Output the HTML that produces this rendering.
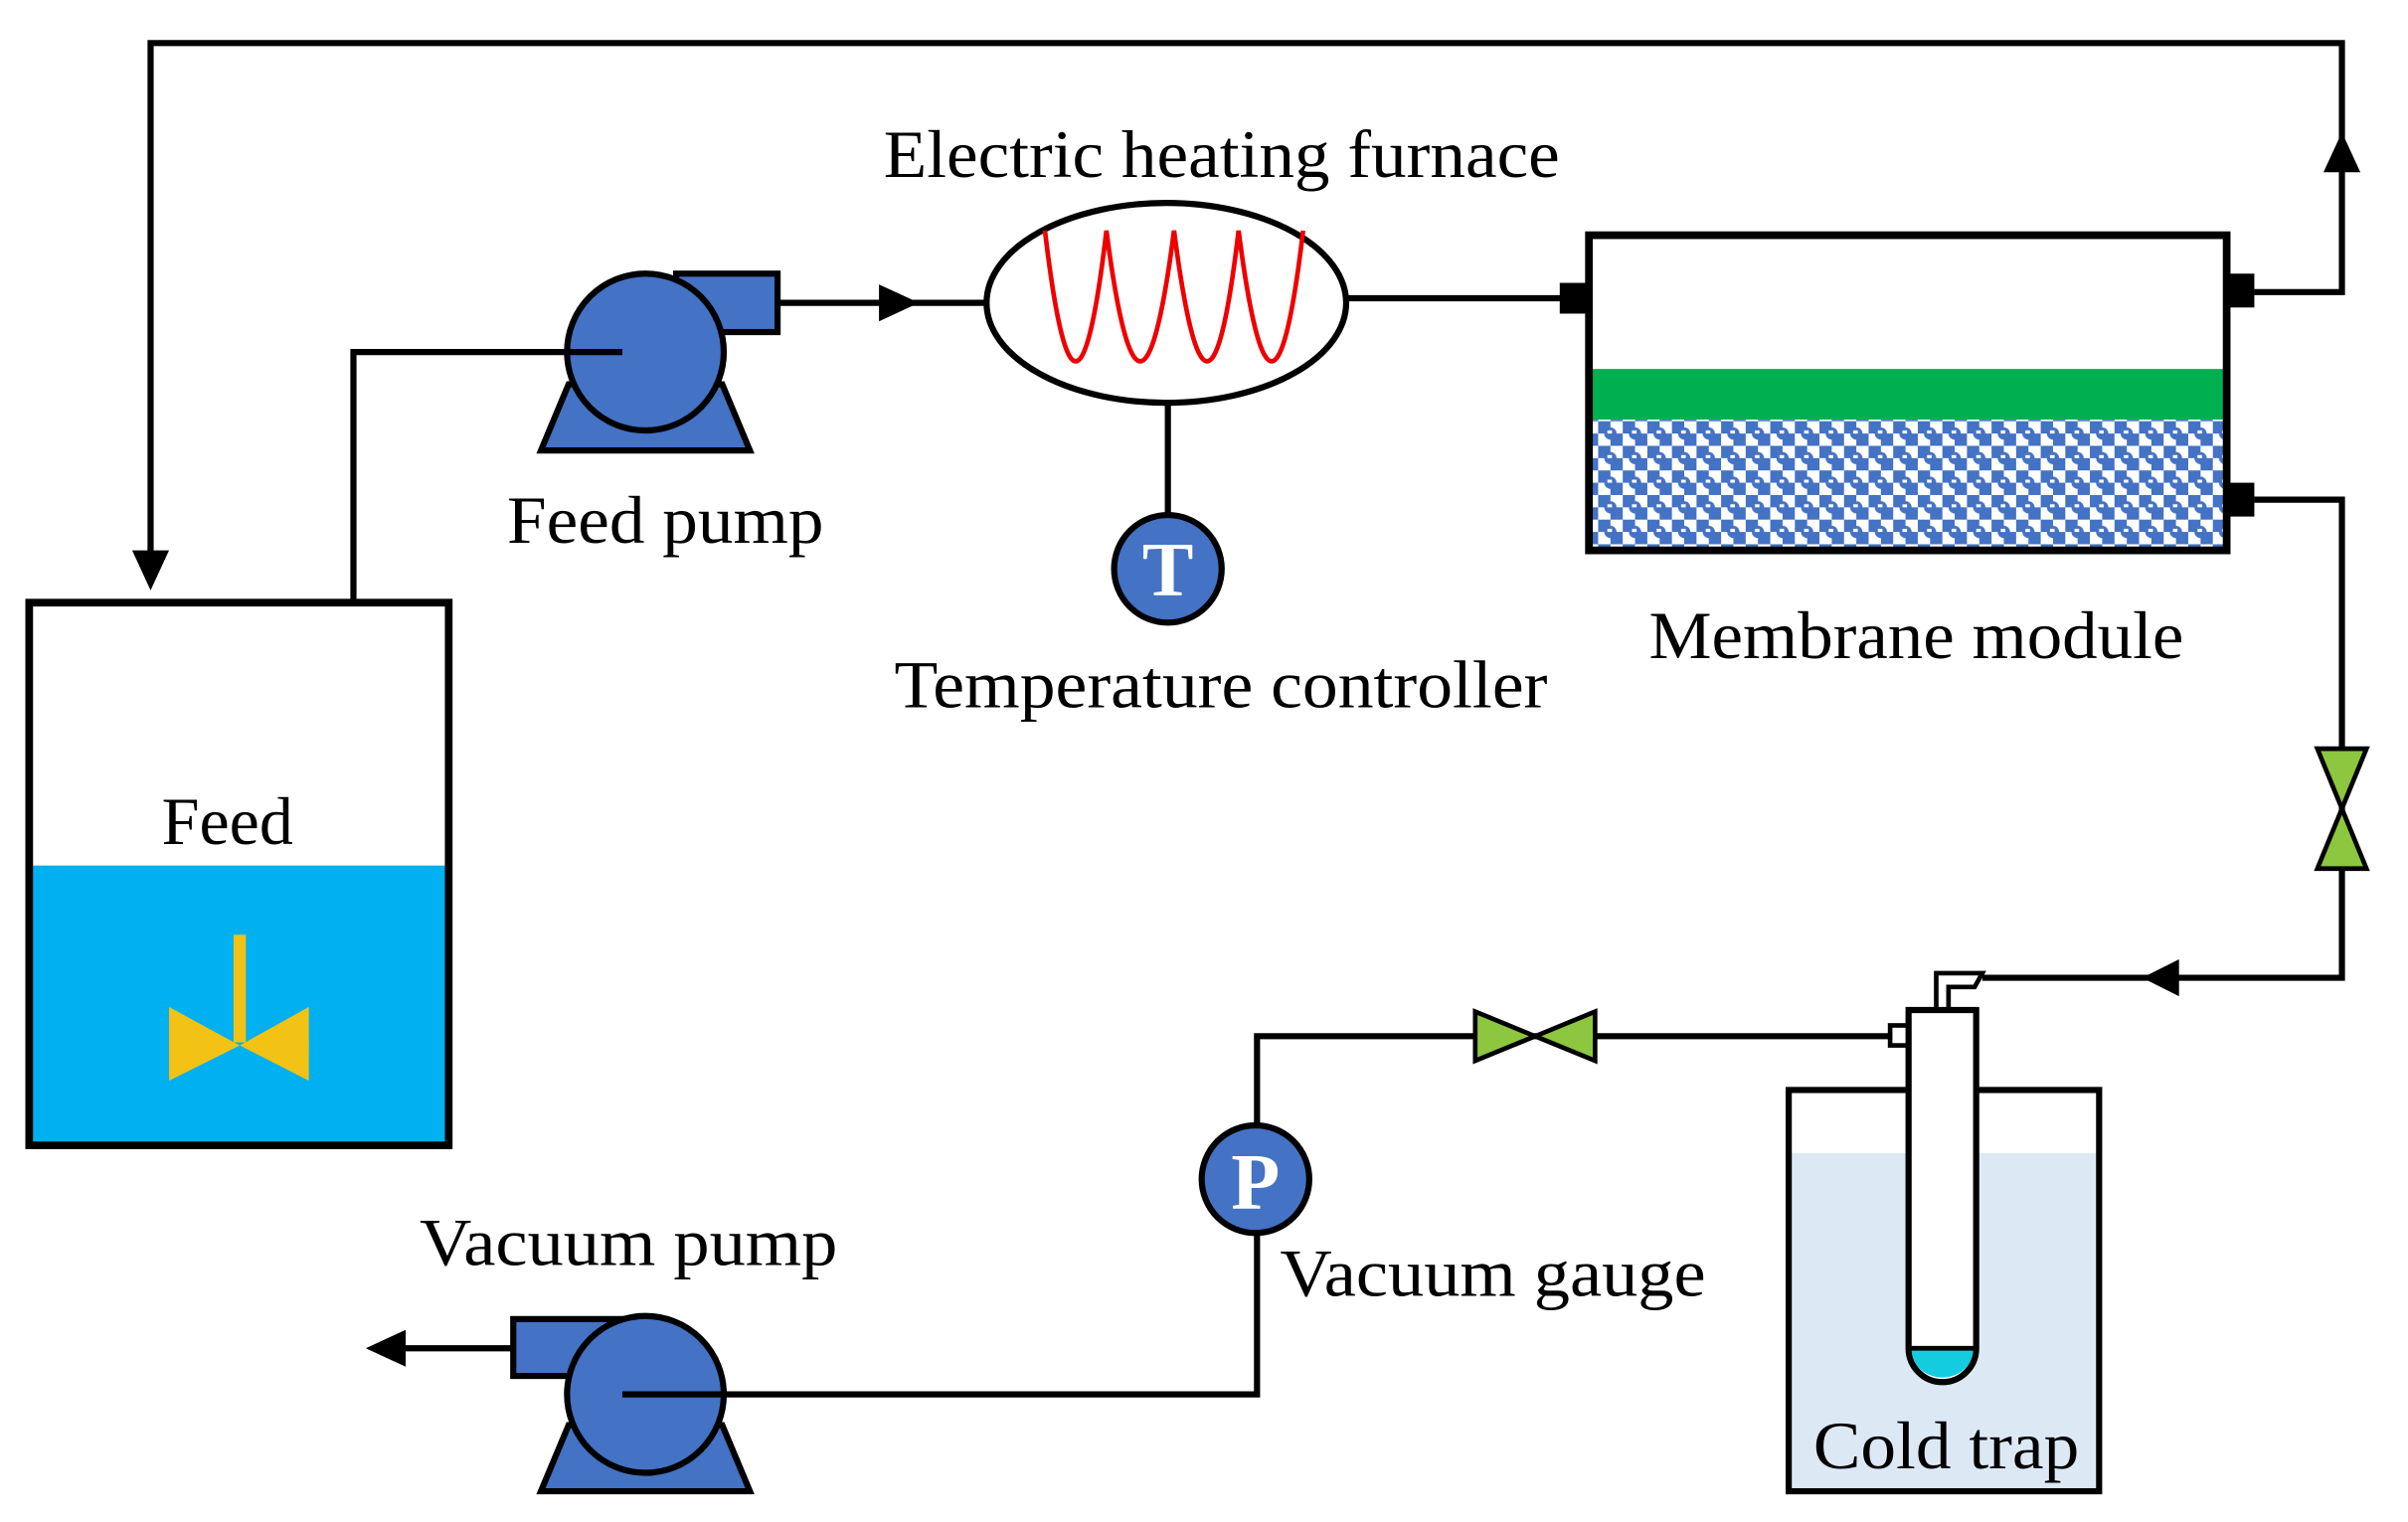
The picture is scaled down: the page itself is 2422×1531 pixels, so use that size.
<!DOCTYPE html>
<html><head><meta charset="utf-8"><style>
html,body{margin:0;padding:0;background:#fff;}
svg{display:block;}
text{font-family:"Liberation Serif",serif;fill:#000;}
</style></head><body>
<svg width="2422" height="1531" viewBox="0 0 1567 990" preserveAspectRatio="none" xmlns="http://www.w3.org/2000/svg">
<defs>
<pattern id="mp" x="1040" y="274" width="16" height="16" patternUnits="userSpaceOnUse">
<rect width="16" height="16" fill="#fff"/>
<rect x="0" y="0" width="8" height="8" fill="#4472c4"/>
<rect x="8" y="8" width="8" height="8" fill="#4472c4"/>
<circle cx="8" cy="8" r="4" fill="#4472c4"/>
<rect x="6" y="6" width="3" height="2" fill="#fff"/>
</pattern>
</defs>
<g fill="none" stroke="#000" stroke-width="4">
<polyline points="98,376 98,28 1524,28 1524,190 1467,190"/>
<polyline points="230,391 230,229 405,229"/>
<line x1="506" y1="197" x2="645" y2="197"/>
<line x1="876" y1="194" x2="1018" y2="194"/>
<line x1="760" y1="262" x2="760" y2="336"/>
<polyline points="1467,325 1524,325 1524,636 1290,636"/>
<polyline points="1232,674 818,674 818,907 405,907"/>
<line x1="334" y1="877" x2="258" y2="877"/>
</g>
<polygon points="86,358 110,358 98,384" fill="#000"/>
<polygon points="1512,112 1536,112 1524,86" fill="#000"/>
<polygon points="572,185 572,209 598,197" fill="#000"/>
<polygon points="1418,624 1418,648 1394,636" fill="#000"/>
<polygon points="264,865 264,889 238,877" fill="#000"/>
<rect x="20" y="563" width="271" height="181" fill="#00b0f0"/>
<rect x="19" y="392" width="273" height="353" fill="none" stroke="#000" stroke-width="5"/>
<text x="148" y="549" font-size="44" text-anchor="middle">Feed</text>
<rect x="152" y="608" width="8" height="70" fill="#f2c314"/>
<polygon points="110,655 156,680 110,703" fill="#f2c314"/>
<polygon points="201,655 156,680 201,703" fill="#f2c314"/>
<polygon points="352,293 488,293 470,250 370,250" fill="#4472c4" stroke="#000" stroke-width="4"/>
<rect x="440" y="178" width="66" height="38" fill="#4472c4" stroke="#000" stroke-width="4"/>
<circle cx="420" cy="229" r="51" fill="#4472c4" stroke="#000" stroke-width="4"/>
<line x1="370" y1="229" x2="405" y2="229" stroke="#000" stroke-width="4"/>
<text x="330" y="353" font-size="44" textLength="206" lengthAdjust="spacingAndGlyphs">Feed pump</text>
<ellipse cx="759" cy="197" rx="117" ry="65" fill="#fff" stroke="#000" stroke-width="4"/>
<path d="M680,150 Q700,320 720,150 Q742,320 764,150 Q786,320 806,150 Q828,320 848,150" fill="none" stroke="#e00" stroke-width="3"/>
<text x="575" y="115" font-size="44" textLength="440" lengthAdjust="spacingAndGlyphs">Electric heating furnace</text>
<circle cx="760" cy="370" r="35" fill="#4472c4" stroke="#000" stroke-width="4"/>
<text x="760" y="387" font-size="50" font-weight="bold" text-anchor="middle" style="fill:#fff">T</text>
<text x="582" y="460" font-size="44" textLength="425" lengthAdjust="spacingAndGlyphs">Temperature controller</text>
<rect x="1036" y="240" width="411" height="33" fill="#00b050"/>
<rect x="1036" y="273" width="411" height="83" fill="url(#mp)"/>
<rect x="1034" y="153" width="415" height="205" fill="none" stroke="#000" stroke-width="5"/>
<rect x="1015" y="184" width="18" height="20" fill="#000"/>
<rect x="1449" y="178" width="18" height="22" fill="#000"/>
<rect x="1449" y="314" width="18" height="22" fill="#000"/>
<text x="1073" y="428" font-size="44" textLength="348" lengthAdjust="spacingAndGlyphs">Membrane module</text>
<polygon points="1508,487 1540,487 1524,526" fill="#8dc63f" stroke="#000" stroke-width="3"/>
<polygon points="1508,565 1540,565 1524,526" fill="#8dc63f" stroke="#000" stroke-width="3"/>
<polygon points="960,658 960,690 999,674" fill="#8dc63f" stroke="#000" stroke-width="3"/>
<polygon points="1038,658 1038,690 999,674" fill="#8dc63f" stroke="#000" stroke-width="3"/>
<rect x="1166" y="750" width="198" height="218" fill="#dde8f5"/>
<rect x="1164" y="709" width="202" height="261" fill="none" stroke="#000" stroke-width="4"/>
<path d="M1260,656 L1260,633 L1290,633 L1285,642 L1268,642 L1268,656" fill="#fff" stroke="#000" stroke-width="3"/>
<rect x="1230" y="667" width="13" height="13" fill="#fff" stroke="#000" stroke-width="3"/>
<path d="M1242,657 L1286,657 L1286,877 A22,22 0 0 1 1242,877 Z" fill="#fff" stroke="#000" stroke-width="4"/>
<path d="M1244,878 L1284,878 A20,18 0 0 1 1244,878 Z" fill="#14cce0"/>
<line x1="1242" y1="877" x2="1286" y2="877" stroke="#000" stroke-width="3"/>
<text x="1180" y="955" font-size="44" textLength="173" lengthAdjust="spacingAndGlyphs">Cold trap</text>
<circle cx="817" cy="767" r="35" fill="#4472c4" stroke="#000" stroke-width="4"/>
<text x="817" y="786" font-size="52" font-weight="bold" text-anchor="middle" style="fill:#fff">P</text>
<text x="833" y="843" font-size="44" textLength="277" lengthAdjust="spacingAndGlyphs">Vacuum gauge</text>
<polygon points="352,970 488,970 470,927 370,927" fill="#4472c4" stroke="#000" stroke-width="4"/>
<rect x="334" y="858" width="76" height="37" fill="#4472c4" stroke="#000" stroke-width="4"/>
<circle cx="420" cy="907" r="51" fill="#4472c4" stroke="#000" stroke-width="4"/>
<line x1="405" y1="907" x2="471" y2="907" stroke="#000" stroke-width="4"/>
<text x="273" y="823" font-size="44" textLength="272" lengthAdjust="spacingAndGlyphs">Vacuum pump</text>
</svg>
</body></html>
